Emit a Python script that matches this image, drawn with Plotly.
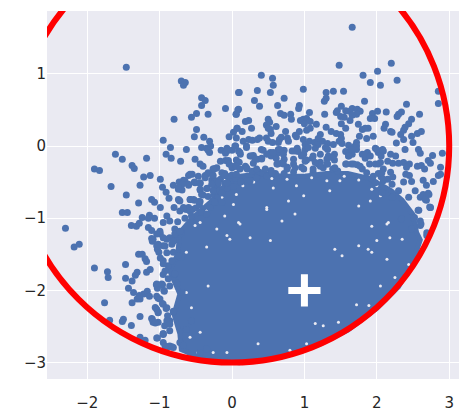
import plotly.graph_objects as go

# Individually legible points (x, y in data units).
points = [
(-1.46,1.09),(-0.70,0.90),(-0.645,0.88),(-0.67,0.84),(-0.42,0.67),(-0.37,0.63),(-0.42,0.56),(-0.09,0.52),(0.09,0.74),(0.08,0.50),(0.06,0.44),
(-0.33,0.44),(-0.49,0.45),(-0.56,0.40),(-0.80,0.37),(-0.49,0.23),(-0.52,0.13),(-0.39,0.12),(-0.31,0.065),(-0.95,0.08),(0.07,0.245),(0.02,0.19),(-0.04,0.13),
(-0.85,-0.02),(-0.63,-0.05),(-0.42,-0.02),(-0.35,-0.03),(-0.295,0.0),(-0.33,-0.06),(-0.31,-0.09),(-0.15,-0.06),(-0.07,-0.03),(0.05,0.0),(0.0,-0.06),(-0.09,-0.10),
(-1.61,-0.115),(-1.515,-0.185),(-1.18,-0.17),(-0.91,-0.115),(-0.84,-0.17),(-0.71,-0.21),(-0.51,-0.185),(-1.90,-0.32),(-1.83,-0.34),(-1.38,-0.27),(-1.35,-0.31),(-0.44,-0.25),(-0.40,-0.28),
(-1.22,-0.43),(-1.13,-0.41),(-0.99,-0.46),(-1.67,-0.56),(-1.27,-0.545),(-0.96,-0.57),(-0.81,-0.545),(-1.46,-0.68),(-1.29,-0.79),(-1.11,-0.74),(-1.07,-0.78),(-0.99,-0.85),(-0.91,-0.64),(-0.87,-0.725),(-0.73,-0.75),
(-0.60,-0.41),(-0.55,-0.39),(-0.465,-0.42),(-0.67,-0.475),(-0.73,-0.50),(-0.74,-0.60),(-0.69,-0.61),(-0.60,-0.545),(-0.52,-0.50),(-0.44,-0.52),(-0.44,-0.61),(-0.34,-0.585),(-0.40,-0.68),(-0.575,-0.74),(-0.52,-0.75),(-0.44,-0.77),
(1.66,1.645),(1.48,1.12),(2.20,1.145),(2.01,1.035),(1.81,0.98),(1.91,0.88),(2.05,0.84),(2.28,0.91),(0.405,0.98),(0.56,0.94),(0.57,0.84),(0.10,0.74),(0.35,0.77),(0.53,0.74),(0.985,0.785),(1.30,0.74),(1.40,0.757),(1.54,0.757),
(0.72,0.66),(0.31,0.63),(0.38,0.55),(0.63,0.56),(0.93,0.56),(0.92,0.52),(1.275,0.62),(1.30,0.66),(1.83,0.62),(2.41,0.58),(2.85,0.757),(2.85,0.59),(0.09,0.51),(0.055,0.44),
(0.67,0.45),(0.72,0.425),(0.81,0.44),(0.82,0.37),(1.07,0.465),(1.28,0.44),(1.455,0.49),(1.51,0.55),(1.44,0.465),(1.57,0.49),(1.66,0.52),(1.62,0.48),(1.73,0.51),(1.77,0.48),(1.72,0.44),(1.66,0.425),(1.50,0.41),(1.55,0.40),(1.63,0.355),
(2.01,0.48),(1.94,0.45),(1.91,0.38),(1.97,0.38),(2.13,0.47),(2.28,0.41),(2.34,0.47),(2.30,0.44),(2.59,0.44),(2.48,0.37),(2.44,0.31),(0.23,0.355),(0.185,0.34),(0.50,0.37),(0.52,0.33),(0.475,0.29),(0.61,0.27),(0.53,0.23),(0.50,0.245),(0.27,0.245),(0.07,0.245),(0.14,0.20),(0.74,0.20),(0.54,0.175),
(0.985,0.37),(0.945,0.355),(1.03,0.38),(1.08,0.34),(1.165,0.30),(1.0,0.31),(1.08,0.245),(1.03,0.22),(0.93,0.20),(0.89,0.13),(1.30,0.26),(1.37,0.20),(1.44,0.175),(1.57,0.245),(1.51,0.31),(1.22,0.16),(1.19,0.105),(1.50,0.16),(1.51,0.105),
(1.745,0.30),(1.80,0.23),(1.88,0.245),(1.84,0.245),(1.76,0.135),(1.86,0.105),(1.95,0.135),(2.12,0.30),(2.10,0.245),(2.19,0.20),(2.21,0.19),(2.39,0.26),(2.37,0.22),(2.33,0.16),(2.37,0.09),(2.48,0.135),(2.50,0.05),(2.27,0.04),(2.56,0.175),(2.615,0.20),
(2.39,-0.05),(2.575,-0.05),(2.60,-0.10),(2.905,-0.10),(2.77,-0.13),(2.71,-0.20),(2.74,-0.24),(2.88,-0.295),(2.56,-0.28),(2.615,-0.27),(2.66,-0.32),(2.85,-0.41),(2.88,-0.39),(2.78,-0.49),(2.37,-0.23),(2.45,-0.25),(2.41,-0.295),(2.45,-0.41),(2.48,-0.49),(2.37,-0.50),(2.64,-0.475),(2.685,-0.545),(2.71,-0.655),(2.64,-0.67),(2.685,-0.75),(2.74,-0.85),
(0.23,0.09),(0.28,0.08),(0.35,0.09),(0.38,0.11),(0.475,0.11),(0.50,0.065),(0.56,0.05),(0.655,0.09),(0.68,0.12),(0.64,0.05),(0.765,0.11),(0.78,0.065),(0.875,0.15),(0.985,0.09),(1.01,0.02),(1.07,0.065),(1.14,0.05),(1.19,0.02),(1.25,0.065),(1.32,0.035),(1.40,0.02),(1.48,0.065),(1.52,0.035),(1.61,0.01),(1.72,0.05),(1.70,0.0),(0.155,0.065),(0.20,-0.02),(0.06,0.11),
(0.09,-0.07),(0.115,-0.115),(0.405,-0.05),(0.43,-0.06),(0.53,-0.09),(0.54,-0.14),(0.64,-0.05),(0.68,-0.075),(0.72,-0.06),(0.625,-0.10),(0.83,-0.07),(0.90,-0.03),(0.915,-0.075),(1.01,-0.05),(1.055,-0.02),(1.15,-0.03),(1.29,-0.02),(1.32,-0.05),(1.415,-0.115),(1.57,-0.075),(1.635,-0.06),(1.61,-0.14),(1.72,-0.05),(1.66,-0.115),(1.80,-0.115),(1.87,-0.09),(1.84,-0.17),(1.98,-0.03),(2.08,-0.05),(2.02,-0.09),(2.19,-0.115),(2.26,-0.14),(2.06,-0.14),(0.25,-0.14),(0.295,-0.13),(0.35,-0.185),(0.41,-0.17),(0.61,-0.17),(0.72,-0.185),(0.85,-0.185),(0.96,-0.14),(1.03,-0.195),(1.11,-0.17),(1.22,-0.225),(1.33,-0.14),(1.415,-0.195),
(0.06,-0.195),(0.10,-0.225),(0.185,-0.28),(0.21,-0.32),(0.295,-0.24),(0.38,-0.365),(0.43,-0.38),(0.28,-0.35),(0.54,-0.34),(0.63,-0.25),(0.68,-0.24),(0.765,-0.295),(0.85,-0.25),(0.96,-0.295),(1.12,-0.365),(1.19,-0.25),(1.26,-0.30),(1.32,-0.25),(1.39,-0.32),(1.46,-0.345),(1.57,-0.25),(1.65,-0.25),(1.73,-0.26),(1.80,-0.32),(1.90,-0.25),(1.98,-0.25),(2.05,-0.23),(2.15,-0.21),(2.22,-0.24),(2.09,-0.32),(2.02,-0.38),(2.19,-0.365),(2.30,-0.24),(2.06,-0.425),(2.15,-0.46),(2.22,-0.43),(2.40,-0.39),
(-0.26,-0.32),(-0.23,-0.31),(-0.16,-0.21),(-0.09,-0.20),(-0.05,-0.20),(-0.04,-0.25),(0.0,-0.30),(0.05,-0.28),(-0.37,-0.41),(-0.33,-0.38),(-0.27,-0.39),(-0.28,-0.47),(-0.25,-0.50),(-0.22,-0.48),(-0.16,-0.46),(-0.10,-0.38),(-0.07,-0.42),(-0.04,-0.44),(0.0,-0.40),(0.05,-0.45),(-0.10,-0.52),(-0.20,-0.55),(-0.24,-0.58),(-0.18,-0.62),(-0.12,-0.60),(-0.06,-0.58),(0.02,-0.56),(-0.33,-0.70),(-0.25,-0.67),(-0.20,-0.72),(0.12,-0.50),(0.25,-0.48),(0.34,-0.44),(0.48,-0.42),(0.60,-0.38),(0.72,-0.38),(0.85,-0.36),
(-2.30,-1.14),(-2.18,-1.40),(-2.11,-1.36),(-1.90,-1.69),(-1.72,-1.74),(-1.71,-1.82),(-1.47,-1.64),(-1.47,-1.83),(-1.38,-1.87),(-1.31,-1.75),(-1.335,-1.79),(-1.43,-1.97),(-1.36,-2.03),(-1.76,-2.17),(-1.69,-2.415),(-1.50,-2.40),(-1.515,-2.43),(-1.39,-2.485),(-1.27,-2.36),(-1.27,-2.65),(-1.20,-2.69),(-1.38,-2.17),(-1.31,-2.12),(-1.27,-2.12),(-1.22,-2.05),(-1.17,-2.01),(-1.14,-2.08),(-1.28,-2.07),
(-1.515,-0.92),(-1.445,-0.92),(-1.39,-1.10),(-1.32,-1.11),(-1.28,-1.07),(-1.24,-0.99),(-1.14,-0.96),(-1.155,-1.0),(-1.07,-1.0),(-1.155,-1.13),(-1.11,-1.17),(-1.11,-1.28),(-1.10,-1.32),(-1.03,-1.39),(-1.03,-1.43),(-1.29,-1.50),(-1.24,-1.50),(-1.20,-1.56),(-1.18,-1.60),(-1.18,-1.75),(-1.13,-1.71),
(-1.045,-1.92),(-0.96,-1.92),(-1.03,-1.97),(-0.935,-2.01),(-1.02,-2.11),(-0.96,-2.18),(-0.91,-2.25),(-1.06,-2.235),(-1.02,-2.30),(-1.11,-2.39),(-1.09,-2.44),(-1.02,-2.44),(-0.89,-2.35),(-1.03,-2.66),(-0.95,-2.61),(-0.95,-2.72),(-0.88,-2.78),(-0.81,-2.79),
(-0.90,-0.97),(-0.95,-1.06),(-0.86,-1.04),(-0.79,-1.15),(-0.99,-1.22),(-0.90,-1.29),(-0.83,-1.36),(-0.95,-1.38),(-1.01,-1.47),(-0.81,-1.47),(-0.70,-1.54),(-0.95,-1.59),(-0.88,-1.66),(-0.79,-1.78),(-0.95,-1.78),(-0.86,-1.94),(-0.76,-1.90),(-0.69,-2.03),(-0.81,-2.30),(-0.86,-2.42),(-0.93,-2.49),(-0.86,-2.56),(-0.95,-2.60),(-0.72,-2.72),(-0.67,-2.76),(-0.86,-2.77),(-0.56,-2.42),(-0.63,-2.54),(-0.44,-2.86),(-0.35,-2.81),
(-0.80,-0.85),(-0.72,-0.90),(-0.66,-0.87),(-0.60,-0.85),(-0.55,-0.88),(-0.50,-0.86),(-0.45,-0.82),(-0.65,-1.0),(-0.75,-1.05),(-0.70,-1.2),(-0.78,-1.3),
(2.58,-0.89),(2.74,-0.85),(2.52,-0.99),(2.60,-1.10),(2.48,-1.15),(2.69,-1.24),(2.34,-1.01),(2.53,-0.62),(2.44,-0.71),(2.60,-0.71),(2.30,-0.62),(2.21,-0.71),(2.07,-0.645),(2.21,-0.53),(1.98,-0.51),(2.09,-0.48),
(2.57,-0.89),(2.51,-1.0),(2.60,-1.04),(2.73,-0.845),(2.67,-0.74),(2.72,-0.67),(2.69,-1.2),(2.61,-1.08),
(-1.04,-1.91),(-0.97,-1.91),(-0.94,-2.0),(-1.04,-2.08),(-0.995,-2.12),(-0.95,-2.19),(-0.90,-2.24),(-1.04,-2.26),(-1.02,-2.31),(-1.10,-2.40),(-1.06,-2.45),(-0.81,-2.29),(-0.90,-2.42),(-0.86,-2.47),(-0.95,-2.60),(-1.04,-2.66),(-0.925,-2.77),(-0.83,-2.78),
(-1.09,-1.29),(-1.04,-1.38),(-0.95,-1.27),(-0.925,-1.385),(-0.79,-1.22),(-0.72,-1.18),(-0.995,-1.18),(-1.04,-1.22),(-0.86,-1.27),(-0.81,-1.32),(-0.90,-1.48),(-0.83,-1.59),(-0.745,-1.52),(-0.88,-1.84),(-0.79,-1.77),(-1.02,-1.36),(-0.99,-1.55),(-0.95,-1.63),(-0.925,-1.73),
(-0.21,-0.30),(-0.26,-0.32),(-0.33,-0.37),(-0.37,-0.44),(-0.26,-0.41),(-0.14,-0.37),(-0.10,-0.41),(0,-0.28),(0.06,-0.28),(0.11,-0.32),(-0.07,-0.51),(-0.19,-0.51),(-0.28,-0.53),(-0.14,-0.65),(-0.26,-0.62),(-0.35,-0.59),(-0.44,-0.60),(-0.42,-0.67),(-0.58,-0.39),(-0.65,-0.48),(-0.69,-0.53),(-0.74,-0.58),(-0.60,-0.53),(-0.51,-0.51),(-0.44,-0.51),(-0.53,-0.74),(-0.58,-0.74),(-0.46,-0.77),(-0.63,-0.88),(-0.58,-0.90),(-0.67,-0.85),(-0.56,-0.97),(-0.74,-0.74),(-0.72,-0.76),(-0.42,-0.92),(-0.35,-0.94),(-0.30,-0.85),(-0.24,-0.78),(-0.14,-0.78),
(-0.07,-0.07),(0.04,0.0),(0.11,-0.09),(0.20,0.0),(0.27,-0.14),(0.32,-0.18),(0.41,-0.18),(0.48,-0.115),(0.20,-0.30),(0.34,-0.32),(0.46,-0.32),(0.06,-0.39),
(0.57,-0.09),(0.66,-0.05),(0.71,-0.115),(0.87,-0.07),(0.99,-0.115),(1.01,-0.21),(1.12,-0.14),(1.22,-0.115),(1.31,-0.18),(1.38,-0.16),(1.22,-0.28),(1.15,-0.23),(0.71,-0.25),(0.76,-0.32),(0.62,-0.25),(0.55,-0.37),(0.99,-0.32),(0.87,-0.30),(1.12,-0.32),(1.31,-0.25),(1.42,-0.30),(1.58,-0.25),(1.61,-0.14),(1.72,0.0),(1.65,-0.05),(1.84,-0.115),(1.91,-0.14),(2.0,-0.05),(2.09,-0.07),(2.02,-0.25),(2.07,-0.37),(1.77,-0.28),(1.68,-0.25),(1.86,-0.37),(1.95,-0.42),(2.09,-0.46),
]
point_x = [p[0] for p in points]
point_y = [p[1] for p in points]

# The centre of the cloud overlaps into solid colour, so single points cannot be
# read there. This is the traced outline of that solid mass, not data points.
core_outline = [
(-0.72,-1.2),(-0.55,-1.0),(-0.3,-0.78),(-0.1,-0.55),(0.1,-0.42),(0.4,-0.38),(0.7,-0.42),(1.0,-0.42),(1.3,-0.38),(1.6,-0.38),(1.9,-0.45),(2.2,-0.62),
(2.35,-0.75),(2.5,-0.95),(2.55,-1.2),(2.6,-1.3),(2.5,-1.6),(2.3,-1.95),(2.0,-2.25),(1.6,-2.55),(1.2,-2.75),(0.6,-2.92),(0.1,-3.0),(-0.4,-2.95),
(-0.7,-2.82),(-0.72,-2.6),(-0.8,-2.33),(-0.72,-2.05),(-0.86,-1.73),(-0.75,-1.5),(-0.72,-1.2),
]
core_x = [p[0] for p in core_outline]
core_y = [p[1] for p in core_outline]

# Small background-coloured gaps seen inside the solid mass, also.
core_gaps = [
(2.16,-1.06),(2.18,-1.27),(1.75,-1.38),(1.93,-1.47),(1.89,-2.21),(1.72,-2.20),(1.47,-2.44),(1.26,-2.49),(1.15,-2.46),(2.25,-1.82),(2.44,-1.64),(2.35,-1.29),
(0.09,-1.06),(0.48,-0.88),(0.53,-1.31),(0.25,-1.27),(1.42,-1.43),(1.52,-1.52),(1.93,-1.11),(2.0,-1.31),(2.14,-1.57),(1.88,-1.43),(2.05,-1.94),(1.03,-2.74),(0.80,-2.83),(0.36,-2.74),
(-0.56,-2.24),(-0.35,-1.40),(-0.07,-1.24),(-0.44,-1.06),(-0.63,-1.47),(-0.33,-1.94),(-0.47,-2.86),(-0.26,-2.86),(-0.07,-2.86),(-0.58,-2.65),(-0.44,-2.58),(-0.63,-2.03),(-0.51,-1.10),(-0.21,-1.15),(-0.03,-1.29),
(0.57,-0.58),(0.78,-0.76),(0.99,-0.69),(1.31,-0.48),(1.49,-0.48),(1.35,-0.62),(1.75,-0.83),(1.91,-0.76),(1.93,-0.60),(2.05,-0.69),(0.69,-1.04),(0.71,-0.39),(0.89,-0.55),(0.76,-0.46),(2.14,-1.08),(0.87,-0.94),
(0.15,-0.55),(0.30,-0.50),(0.55,-0.45),(1.10,-0.44),(1.55,-0.42),(1.75,-0.47),(2.0,-0.55),(2.2,-0.70),
(-0.10,-0.97),(0.11,-1.08),(-0.14,-0.71),(0.06,-0.67),(0.48,-0.85),(-0.35,-0.90),(0.02,-0.81),(0.25,-0.48),
]
gap_x = [p[0] for p in core_gaps]
gap_y = [p[1] for p in core_gaps]

plus_x = [1]
plus_y = [-2]
circle_center = (0, 0)
circle_radius = 3
x_ticks = [-2, -1, 0, 1, 2, 3]
y_ticks = [-3, -2, -1, 0, 1]

BLUE = "#4c72b0"
BG = "#eaeaf2"
fig = go.Figure()
fig.add_trace(go.Scatter(x=core_x, y=core_y, mode="lines", fill="toself", fillcolor=BLUE,
                         line=dict(color=BLUE, width=5), hoverinfo="skip"))
fig.add_trace(go.Scatter(x=gap_x, y=gap_y, mode="markers", hoverinfo="skip",
                         marker=dict(color=BG, size=3, line=dict(width=0))))
fig.add_trace(go.Scatter(x=point_x, y=point_y, mode="markers",
                         marker=dict(color=BLUE, size=7, line=dict(width=0))))
fig.add_trace(go.Scatter(x=plus_x, y=plus_y, mode="markers",
                         marker=dict(symbol="cross-thin", size=23, line=dict(color="white", width=7))))
fig.add_shape(type="circle", xref="x", yref="y", layer="above",
              x0=circle_center[0]-circle_radius, x1=circle_center[0]+circle_radius,
              y0=circle_center[1]-circle_radius, y1=circle_center[1]+circle_radius,
              line=dict(color="#ff0000", width=6))
axis = dict(showgrid=True, gridcolor="white", gridwidth=1.3, zeroline=False, showline=False,
            ticks="", tickfont=dict(family="DejaVu Sans", size=15, color="#262626"))
fig.update_xaxes(range=[-2.555, 3.135], tickvals=x_ticks, ticklabelstandoff=13, **axis)
fig.update_yaxes(range=[-3.227, 1.87], tickvals=y_ticks, **axis)
# The page's default 8 px body margin offsets the figure, so size and margins allow for it.
fig.update_layout(width=462, height=409, margin=dict(l=39, r=11, t=3, b=38),
                  plot_bgcolor=BG, paper_bgcolor="white", showlegend=False)
fig.write_html("out.html")
